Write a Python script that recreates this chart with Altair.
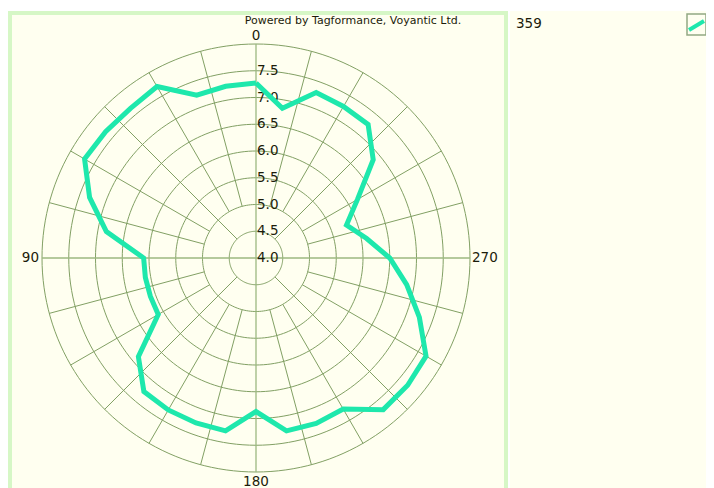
import altair as alt
import pandas as pd

# ---- data ----
series_name = "359"
angles = [0, 10, 20, 30, 40, 50, 60, 70, 80,
          90, 100, 110, 120, 130, 140, 150, 160, 170,
          180, 190, 200, 210, 220, 230, 240, 250, 260,
          270, 280, 290, 300, 310, 320, 330, 340, 350]
values = [7.27, 7.26, 7.24, 7.70, 7.65, 7.67, 7.70, 7.31, 6.84,
          6.10, 6.10, 6.10, 6.11, 6.87, 7.26, 7.28, 7.28, 7.28,
          6.87, 7.28, 7.29, 7.26, 7.70, 7.70, 7.67, 7.25, 6.86,
          6.50, 6.10, 5.80, 6.19, 6.86, 7.26, 7.27, 7.29, 6.84]
ring_values = [4.5, 5.0, 5.5, 6.0, 6.5, 7.0, 7.5, 8.0]
ring_label_values = [4.0, 4.5, 5.0, 5.5, 6.0, 6.5, 7.0, 7.5]
ring_label_text = ["4.0", "4.5", "5.0", "5.5", "6.0", "6.5", "7.0", "7.5"]
spoke_angles = list(range(0, 360, 15))
angle_label_text = ["0", "90", "180", "270"]
angle_label_pos = [0, 90, 180, 270]
title_text = "Powered by Tagformance, Voyantic Ltd."
R_MIN, R_MAX = 4.0, 8.0

# ---- styling ----
BG = "#fffff0"
BORDER = "#d6f7c6"
GRID = "#82a064"
AXIS = "#9cb980"
CURVE = "#1ee8ac"
TEXT = "#1c1c0a"
FONT = "DejaVu Sans"

W = H = 428
xs = alt.Scale(domain=[-(R_MAX - R_MIN), R_MAX - R_MIN], nice=False, zero=False)
ys = alt.Scale(domain=[-(R_MAX - R_MIN), R_MAX - R_MIN], nice=False, zero=False)

def X(field="px"):
    return alt.X(f"{field}:Q", scale=xs, axis=None)

def Y(field="py"):
    return alt.Y(f"{field}:Q", scale=ys, axis=None)

def polar(chart, rfield, afield, xname="px", yname="py"):
    return chart.transform_calculate(
        **{xname: f"-(datum.{rfield} - {R_MIN}) * sin(datum.{afield} * PI / 180)",
           yname: f"(datum.{rfield} - {R_MIN}) * cos(datum.{afield} * PI / 180)"}
    )

# ---- tables built from the arrays ----
curve_df = pd.DataFrame({"angle": angles + [360],
                         "value": values + [values[0]],
                         "series": series_name})
curve_df["order"] = range(len(curve_df))

ring_rows = []
for rv in ring_values:
    for a in range(0, 361, 2):
        ring_rows.append({"ring": rv, "angle": a, "r": rv})
ring_df = pd.DataFrame(ring_rows)

spoke_df = pd.DataFrame({
    "angle": spoke_angles,
    "r0": [R_MIN if a % 90 == 0 else (4.5 if a % 45 == 0 else 5.0) for a in spoke_angles],
    "r1": [R_MAX] * len(spoke_angles),
    "main": [a % 90 == 0 for a in spoke_angles],
})

rl_df = pd.DataFrame({"r": ring_label_values, "label": ring_label_text, "angle": 0})
al_df = pd.DataFrame({"label": angle_label_text, "angle": angle_label_pos, "r": R_MAX})

one = pd.DataFrame({"k": [0]})

# ---- decorative panels (pixel positions relative to plot area) ----
panel = alt.Chart(one).mark_rect(fill=BG, stroke=BORDER, strokeWidth=4).encode(
    x=alt.value(-32), x2=alt.value(464), y=alt.value(-31), y2=alt.value(450))
legend_panel = alt.Chart(one).mark_rect(fill=BG).encode(
    x=alt.value(468), x2=alt.value(670), y=alt.value(-33), y2=alt.value(450))

title = alt.Chart(one).mark_text(font=FONT, fontSize=11, color=TEXT, align="center",
                                 baseline="middle").encode(
    x=alt.value(311), y=alt.value(-23), text=alt.value(title_text))

legend_text = alt.Chart(pd.DataFrame({"s": [series_name]})).mark_text(
    font=FONT, fontSize=13.5, color=TEXT, align="left", baseline="middle").encode(
    x=alt.value(474), y=alt.value(-20), text="s:N")
legend_box = alt.Chart(one).mark_rect(fill=BG, stroke="#93a982", strokeWidth=1.5).encode(
    x=alt.value(645), x2=alt.value(664), y=alt.value(-30), y2=alt.value(-9))
legend_line = alt.Chart(one).mark_rule(color=CURVE, strokeWidth=4).encode(
    x=alt.value(647), x2=alt.value(662), y=alt.value(-14), y2=alt.value(-23))

# ---- polar grid ----
rings = polar(alt.Chart(ring_df), "r", "angle").mark_line(
    color=GRID, strokeWidth=1, interpolate="linear").encode(
    x=X(), y=Y(), detail="ring:N", order="angle:Q")

spokes_base = alt.Chart(spoke_df).transform_calculate(
    x0=f"-(datum.r0 - {R_MIN}) * sin(datum.angle * PI / 180)",
    y0=f"(datum.r0 - {R_MIN}) * cos(datum.angle * PI / 180)",
    x1=f"-(datum.r1 - {R_MIN}) * sin(datum.angle * PI / 180)",
    y1=f"(datum.r1 - {R_MIN}) * cos(datum.angle * PI / 180)",
)
spokes = spokes_base.transform_filter("!datum.main").mark_rule(
    color=GRID, strokeWidth=1).encode(
    x=X("x0"), y=Y("y0"), x2="x1:Q", y2="y1:Q")
axes_lines = spokes_base.transform_filter("datum.main").mark_rule(
    color=AXIS, strokeWidth=1.3).encode(
    x=X("x0"), y=Y("y0"), x2="x1:Q", y2="y1:Q")

ring_labels = polar(alt.Chart(rl_df), "r", "angle").mark_text(
    font=FONT, fontSize=13.5, color=TEXT, align="left", baseline="middle", dx=1).encode(
    x=X(), y=Y(), text="label:N")

ang_base = polar(alt.Chart(al_df), "r", "angle")
lab0 = ang_base.transform_filter("datum.angle == 0").mark_text(
    font=FONT, fontSize=13.5, color=TEXT, align="center", baseline="bottom", dy=-1).encode(
    x=X(), y=Y(), text="label:N")
lab90 = ang_base.transform_filter("datum.angle == 90").mark_text(
    font=FONT, fontSize=13.5, color=TEXT, align="right", baseline="middle", dx=-3).encode(
    x=X(), y=Y(), text="label:N")
lab180 = ang_base.transform_filter("datum.angle == 180").mark_text(
    font=FONT, fontSize=13.5, color=TEXT, align="center", baseline="top", dy=3).encode(
    x=X(), y=Y(), text="label:N")
lab270 = ang_base.transform_filter("datum.angle == 270").mark_text(
    font=FONT, fontSize=13.5, color=TEXT, align="left", baseline="middle", dx=2).encode(
    x=X(), y=Y(), text="label:N")

# ---- data curve ----
line = polar(alt.Chart(curve_df), "value", "angle").mark_line(
    color=CURVE, strokeWidth=5, strokeJoin="miter", strokeCap="butt").encode(
    x=X(), y=Y(), order="order:Q", detail="series:N")

chart = alt.layer(
    panel, legend_panel, title, legend_text, legend_box, legend_line,
    rings, spokes, axes_lines, ring_labels, lab0, lab90, lab180, lab270, line
).properties(
    width=W, height=H,
    autosize=alt.AutoSizeParams(type="none"),
    padding={"left": 34, "top": 36, "right": 236, "bottom": 16},
    background="white",
).configure_view(strokeWidth=0, fill=None)

chart.save("out.html", embed_options={"renderer": "svg", "actions": False})
